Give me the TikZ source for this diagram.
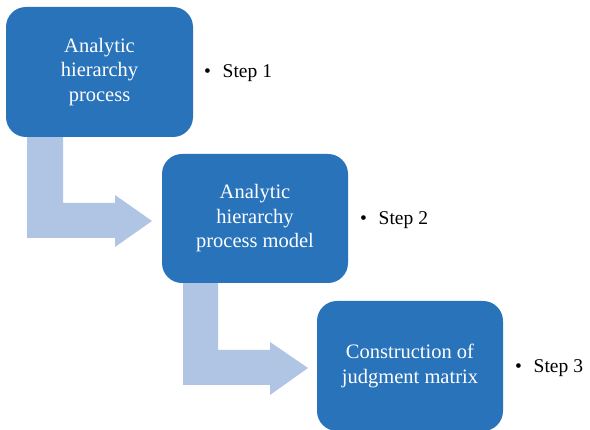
\documentclass[tikz,border=0pt]{standalone}
\usepackage{fontspec}
\setmainfont{Liberation Serif}
\definecolor{boxblue}{HTML}{2873BA}
\definecolor{arrowblue}{HTML}{B0C4E3}
\tikzset{
  stepbox/.style={draw=none, fill=boxblue, rounded corners=20pt, text=white,
    align=center, font=\fontsize{20.5}{24.5}\selectfont, inner sep=0pt},
  steplabel/.style={anchor=west, font=\fontsize{19.5}{24}\selectfont, inner sep=0pt},
  bentarrow/.style={fill=arrowblue, draw=none}
}
\begin{document}
\begin{tikzpicture}[x=1pt,y=-1pt]
\useasboundingbox (0,0) rectangle (590,430);
% arrows
\fill[bentarrow] (27,137) -- (63,137) -- (63,203) -- (115,203) -- (115,195) -- (152,221) -- (115,247) -- (115,238) -- (27,238) -- cycle;
\fill[bentarrow] (183,283) -- (218,283) -- (218,350) -- (270,350) -- (270,342) -- (308,368) -- (270,395) -- (270,385) -- (183,385) -- cycle;
% boxes
\node[stepbox, minimum width=187pt, minimum height=130pt] (b1) at (99.5,72) {Analytic\\hierarchy\\process};
\node[stepbox, minimum width=186pt, minimum height=129pt] (b2) at (255,218.5) {Analytic\\hierarchy\\process model};
\node[stepbox, minimum width=186pt, minimum height=130pt] (b3) at (410,366) {Construction of\\judgment matrix};
% step labels
\node[steplabel] (s1) at (204,73) {\textbullet\hspace{0.6em}Step 1};
\node[steplabel] (s2) at (360,220) {\textbullet\hspace{0.6em}Step 2};
\node[steplabel] (s3) at (515,368) {\textbullet\hspace{0.6em}Step 3};
\end{tikzpicture}
\end{document}
